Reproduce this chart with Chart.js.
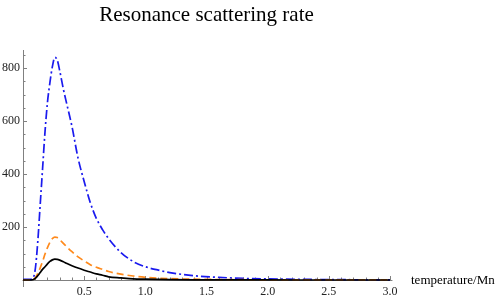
<!DOCTYPE html>
<html>
<head>
<meta charset="utf-8">
<script src="https://cdn.jsdelivr.net/npm/chart.js@4"></script>
<style>
  html, body { margin: 0; padding: 0; background: #fff; }
  #wrap { width: 500px; height: 299px; }
</style>
</head>
<body>
<div id="wrap"><canvas id="myChart" width="500" height="299"></canvas></div>
<script>
// temperature values (x) and the three rate curves
const temps = [0, 0.05, 0.08, 0.1, 0.12, 0.14, 0.16, 0.18, 0.2, 0.22, 0.24, 0.26, 0.28, 0.3, 0.33, 0.36, 0.4, 0.45, 0.5, 0.55, 0.6, 0.65, 0.7, 0.8, 0.9, 1.0, 1.1, 1.2, 1.4, 1.6, 1.8, 2.0, 2.5, 3.0];
const blueRate = [2, 2, 6, 40, 140, 280, 420, 560, 670, 745, 805, 840, 830, 790, 720, 660, 580, 460, 372, 292, 232, 190, 156, 104, 70, 50, 38, 28, 16, 10, 6, 4, 1.5, 0.5];
const orangeRate = [0, 0, 1, 8, 24, 45, 70, 98, 122, 142, 156, 162, 160, 152, 138, 124, 107, 87, 72, 58, 48, 40, 32, 22, 15, 10, 7, 5, 3, 1.8, 1.1, 0.7, 0.3, 0.1];
const blackRate = [0, 0, 1, 6, 16, 28, 40, 50, 61, 70, 76, 79, 78, 75, 69, 62, 54, 45, 37, 30, 23, 18, 12, 8, 4.5, 3, 2, 1.3, 0.6, 0.3, 0.15, 0.1, 0.05, 0];

const xTickLabels = ['0.5', '1.0', '1.5', '2.0', '2.5', '3.0'];
const yTickLabels = ['200', '400', '600', '800'];

const chartTitle = 'Resonance scattering rate';
const xAxisLabel = 'temperature/Mn';

const serif = '"Liberation Serif", "DejaVu Serif", serif';

function toPoints(values) {
    return temps.map((t, i) => ({ x: t, y: values[i] }));
}

// axes with inward ticks, title and axis label, Mathematica style
const axesPlugin = {
    id: 'axesPlugin',
    beforeDatasetsDraw(chart) {
        const ctx = chart.ctx;
        const xs = chart.scales.x;
        const ys = chart.scales.y;
        const x0 = xs.getPixelForValue(0);
        const y0 = ys.getPixelForValue(0);
        ctx.save();
        ctx.strokeStyle = '#808080';
        ctx.lineWidth = 1;
        ctx.beginPath();
        ctx.moveTo(x0 - 0.5, y0 + 0.5);
        ctx.lineTo(xs.getPixelForValue(3.02), y0 + 0.5);
        ctx.moveTo(x0 + 0.5, ys.top);
        ctx.lineTo(x0 + 0.5, y0 + 7);
        // x ticks every 0.1
        for (let i = 1; i <= 30; i++) {
            const px = Math.round(xs.getPixelForValue(i / 10)) + 0.5;
            const len = i % 5 === 0 ? 4 : 2.5;
            ctx.moveTo(px, y0);
            ctx.lineTo(px, y0 - len);
        }
        // y ticks every 50
        for (let v = 50; v <= 850; v += 50) {
            const py = Math.round(ys.getPixelForValue(v)) + 0.5;
            const len = v % 200 === 0 ? 4 : 2.5;
            ctx.moveTo(x0, py);
            ctx.lineTo(x0 + len, py);
        }
        ctx.stroke();
        ctx.restore();
    },
    afterDraw(chart) {
        const ctx = chart.ctx;
        const area = chart.chartArea;
        const y0 = chart.scales.y.getPixelForValue(0);
        ctx.save();
        ctx.fillStyle = '#000';
        ctx.textBaseline = 'alphabetic';
        ctx.font = '21px ' + serif;
        ctx.textAlign = 'center';
        ctx.fillText(chartTitle, (area.left + area.right) / 2, 21);
        ctx.font = '13px ' + serif;
        ctx.textAlign = 'left';
        ctx.fillText(xAxisLabel, 411, y0 + 4);
        ctx.restore();
    }
};

const ctx = document.getElementById('myChart');
new Chart(ctx, {
    type: 'line',
    data: {
        datasets: [
            {
                label: 'black',
                data: toPoints(blackRate),
                borderColor: '#000000',
                borderWidth: 1.7
            },
            {
                label: 'orange',
                data: toPoints(orangeRate),
                borderColor: '#ff8a1c',
                borderWidth: 1.7,
                borderDash: [7, 4]
            },
            {
                label: 'blue',
                data: toPoints(blueRate),
                borderColor: '#1a1aee',
                borderWidth: 1.7,
                borderDash: [9, 3, 2, 3]
            }
        ]
    },
    options: {
        responsive: false,
        animation: false,
        cubicInterpolationMode: 'monotone',
        clip: false,
        elements: { point: { radius: 0 } },
        layout: { padding: { top: 50, right: 110, left: 0, bottom: 0 } },
        plugins: {
            legend: { display: false },
            title: { display: false },
            tooltip: { enabled: false }
        },
        scales: {
            x: {
                type: 'linear',
                min: 0,
                max: 3,
                grid: { display: false, drawTicks: false },
                border: { display: false },
                afterFit: s => { s.height = 19; },
                ticks: {
                    stepSize: 0.5,
                    autoSkip: false,
                    maxRotation: 0,
                    padding: 5,
                    color: '#222',
                    font: { family: serif, size: 12 },
                    callback: v => {
                        const i = Math.round(v * 2) - 1;
                        return i >= 0 ? xTickLabels[i] : '';
                    }
                }
            },
            y: {
                min: 0,
                max: 868,
                grid: { display: false, drawTicks: false },
                border: { display: false },
                afterFit: s => { s.width = 23; },
                ticks: {
                    stepSize: 200,
                    includeBounds: false,
                    padding: 3,
                    color: '#222',
                    font: { family: serif, size: 12 },
                    callback: v => {
                        const i = Math.round(v / 200) - 1;
                        return i >= 0 ? yTickLabels[i] : '';
                    }
                }
            }
        }
    },
    plugins: [axesPlugin]
});
</script>
</body>
</html>
